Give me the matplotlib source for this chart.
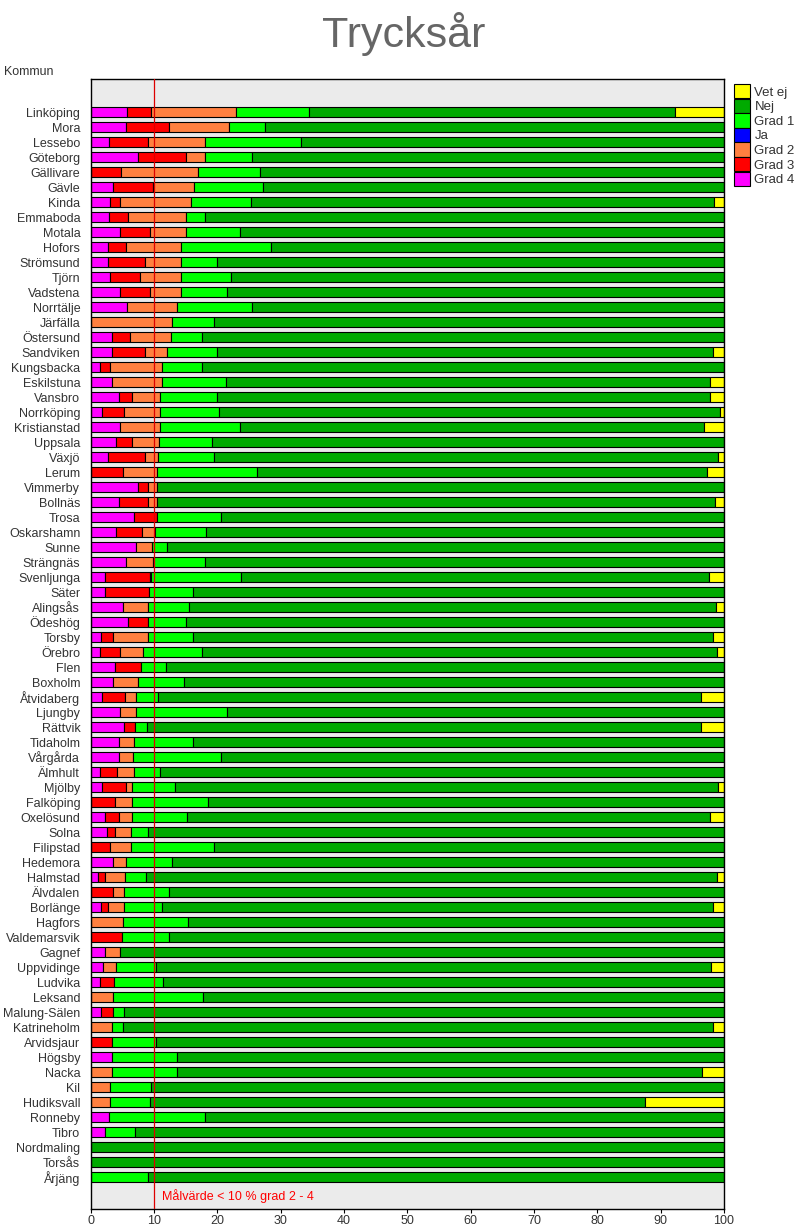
import numpy as np
import matplotlib
matplotlib.use("Agg")
import matplotlib.pyplot as plt
from matplotlib.patches import Patch

plt.rcParams["font.family"] = ["Liberation Sans", "DejaVu Sans"]

KOMMUNER = [
    "Linköping", "Mora", "Lessebo", "Göteborg", "Gällivare", "Gävle", "Kinda",
    "Emmaboda", "Motala", "Hofors", "Strömsund", "Tjörn", "Vadstena", "Norrtälje",
    "Järfälla", "Östersund", "Sandviken", "Kungsbacka", "Eskilstuna", "Vansbro",
    "Norrköping", "Kristianstad", "Uppsala", "Växjö", "Lerum", "Vimmerby",
    "Bollnäs", "Trosa", "Oskarshamn", "Sunne", "Strängnäs", "Svenljunga", "Säter",
    "Alingsås", "Ödeshög", "Torsby", "Örebro", "Flen", "Boxholm", "Åtvidaberg",
    "Ljungby", "Rättvik", "Tidaholm", "Vårgårda", "Älmhult", "Mjölby", "Falköping",
    "Oxelösund", "Solna", "Filipstad", "Hedemora", "Halmstad", "Älvdalen",
    "Borlänge", "Hagfors", "Valdemarsvik", "Gagnef", "Uppvidinge", "Ludvika",
    "Leksand", "Malung-Sälen", "Katrineholm", "Arvidsjaur", "Högsby", "Nacka",
    "Kil", "Hudiksvall", "Ronneby", "Tibro", "Nordmaling", "Torsås", "Årjäng",
]

# percent per kommun, same order as KOMMUNER
GRAD4 = [5.8, 5.5, 2.9, 7.4, 0, 3.6, 3.1, 2.9, 4.7, 2.8, 2.8, 3.1, 4.7, 5.8,
         0, 3.4, 3.4, 1.5, 3.3, 4.4, 1.8, 4.7, 4.0, 2.8, 0, 7.4, 4.4, 6.9,
         4.0, 7.2, 5.5, 2.3, 2.3, 5.1, 5.9, 1.7, 1.4, 3.9, 3.6, 1.8, 4.7, 5.3,
         4.5, 4.5, 1.4, 1.8, 0, 2.2, 2.5, 0, 3.6, 1.1, 0, 1.7, 0, 0,
         2.2, 2.0, 1.5, 0, 1.7, 0, 0, 3.4, 0, 0, 0, 2.9, 2.3, 0, 0, 0]
GRAD3 = [3.8, 6.8, 6.1, 7.6, 4.8, 6.3, 1.6, 3.0, 4.7, 2.8, 5.7, 4.7, 4.7, 0,
         0, 2.8, 5.2, 1.6, 0, 2.2, 3.5, 0, 2.5, 5.8, 5.1, 1.6, 4.6, 3.5,
         4.1, 0, 0, 7.1, 6.9, 0, 3.2, 1.9, 3.2, 4.1, 0, 3.6, 0, 1.7,
         0, 0, 2.7, 3.8, 3.9, 2.2, 1.4, 3.1, 0, 1.1, 3.6, 1.1, 0, 5.0,
         0, 0, 2.2, 0, 1.9, 0, 3.4, 0, 0, 0, 0, 0, 0, 0, 0, 0]
GRAD2 = [13.4, 9.6, 9.0, 3.0, 12.1, 6.4, 11.1, 9.1, 5.7, 8.7, 5.8, 6.5, 4.9, 7.9,
         12.9, 6.5, 3.5, 8.2, 7.9, 4.4, 5.7, 6.2, 4.3, 2.0, 5.4, 1.4, 1.4, 0,
         2.0, 2.5, 4.3, 0.2, 0, 3.9, 0, 5.4, 3.6, 0, 3.8, 1.7, 2.4, 0,
         2.4, 2.2, 2.7, 0.9, 2.7, 2.1, 2.5, 3.3, 1.9, 3.2, 1.7, 2.4, 5.1, 0,
         2.4, 2.0, 0, 3.6, 0, 3.4, 0, 0, 3.4, 3.1, 3.1, 0, 0, 0, 0, 0]
JA = [0] * 72
GRAD1 = [11.5, 5.6, 15.2, 7.4, 9.8, 10.9, 9.5, 3.1, 8.5, 14.2, 5.7, 7.9, 7.2, 11.8,
         6.5, 4.9, 7.9, 6.3, 10.1, 9.0, 9.2, 12.6, 8.4, 8.8, 15.8, 0, 0, 10.2,
         8.1, 2.4, 8.2, 14.2, 6.9, 6.5, 6.0, 7.1, 9.3, 3.9, 7.4, 3.6, 14.4, 1.9,
         9.3, 13.8, 4.1, 6.8, 11.9, 8.7, 2.7, 13.0, 7.4, 3.3, 7.1, 6.1, 10.3, 7.4,
         0, 6.3, 7.7, 14.2, 1.7, 1.7, 6.9, 10.2, 10.2, 6.5, 6.2, 15.2, 4.7, 0, 0, 9.1]
NEJ = [57.8, 72.5, 66.8, 74.6, 73.3, 72.8, 73.1, 81.9, 76.4, 71.5, 80.0, 77.8, 78.5, 74.5,
       80.6, 82.4, 78.3, 82.4, 76.5, 77.8, 79.2, 73.3, 80.8, 79.6, 71.0, 89.6, 88.2, 79.4,
       81.8, 87.9, 82.0, 73.8, 83.9, 83.2, 84.9, 82.2, 81.4, 88.1, 85.2, 85.7, 78.5, 87.5,
       83.8, 79.5, 89.1, 85.7, 81.5, 82.6, 90.9, 80.6, 87.1, 90.2, 87.6, 87.0, 84.6, 87.6,
       95.4, 87.6, 88.6, 82.2, 94.7, 93.2, 89.7, 86.4, 82.9, 90.4, 78.2, 81.9, 93.0,
       100, 100, 90.9]
VET_EJ = [7.7, 0, 0, 0, 0, 0, 1.6, 0, 0, 0, 0, 0, 0, 0,
          0, 0, 1.7, 0, 2.2, 2.2, 0.6, 3.2, 0, 1.0, 2.7, 0, 1.4, 0,
          0, 0, 0, 2.4, 0, 1.3, 0, 1.7, 1.1, 0, 0, 3.6, 0, 3.6,
          0, 0, 0, 1.0, 0, 2.2, 0, 0, 0, 1.1, 0, 1.7, 0, 0,
          0, 2.1, 0, 0, 0, 1.7, 0, 0, 3.5, 0, 12.5, 0, 0, 0, 0, 0]

SERIES = [
    ("Grad 4", GRAD4, "#ff00ff"),
    ("Grad 3", GRAD3, "#ff0000"),
    ("Grad 2", GRAD2, "#ff8040"),
    ("Ja", JA, "#0000ff"),
    ("Grad 1", GRAD1, "#00ff00"),
    ("Nej", NEJ, "#00aa00"),
    ("Vet ej", VET_EJ, "#ffff00"),
]

W, H = 807, 1228
fig = plt.figure(figsize=(W / 100, H / 100), dpi=100)
ax = fig.add_axes([90.7 / W, 1 - 1209 / H, (724 - 90.7) / W, (1209 - 79) / H])
ax.set_facecolor("#ebebeb")

y = np.arange(len(KOMMUNER))
left = np.zeros(len(KOMMUNER))
for name, vals, col in SERIES:
    v = np.array(vals, dtype=float)
    m = v > 0
    if m.any():
        ax.barh(y[m], v[m], left=left[m], height=0.67, color=col,
                edgecolor="black", linewidth=0.8, zorder=2)
    left += v

ax.axvline(10, color="#dd0000", lw=0.9, zorder=5)
ax.text(11.3, 72.25, "Målvärde < 10 % grad 2 - 4", color="#ff0000",
        fontsize=9, va="center", ha="left")

ax.set_xlim(0, 100)
ax.set_ylim(73.13, -2.2)
ax.set_xticks(range(0, 101, 10))
ax.set_yticks(y)
ax.set_yticklabels(KOMMUNER)
ax.tick_params(axis="y", length=0, pad=7.5, labelsize=9, labelcolor="#333333")
ax.tick_params(axis="x", length=3, pad=1, labelsize=9, labelcolor="#333333")
for s in ax.spines.values():
    s.set_linewidth(1)
    s.set_color("black")

fig.text(0.5, 1 - 34 / H, "Trycksår", fontsize=31, color="#666666",
         ha="center", va="center")
fig.text(4 / W, 1 - 72 / H, "Kommun", fontsize=9, color="#333333",
         ha="left", va="center")

handles = [Patch(facecolor=c, edgecolor="black", linewidth=0.8, label=n)
           for n, _, c in SERIES[::-1]]
fig.legend(handles=handles, loc="upper left",
           bbox_to_anchor=(734 / W, 1 - 84 / H), frameon=False,
           fontsize=9.5, handlelength=1.2, handleheight=1.3,
           labelspacing=0, borderpad=0, borderaxespad=0, handletextpad=0.35,
           labelcolor="#333333")

fig.savefig("out.png", dpi=100)
